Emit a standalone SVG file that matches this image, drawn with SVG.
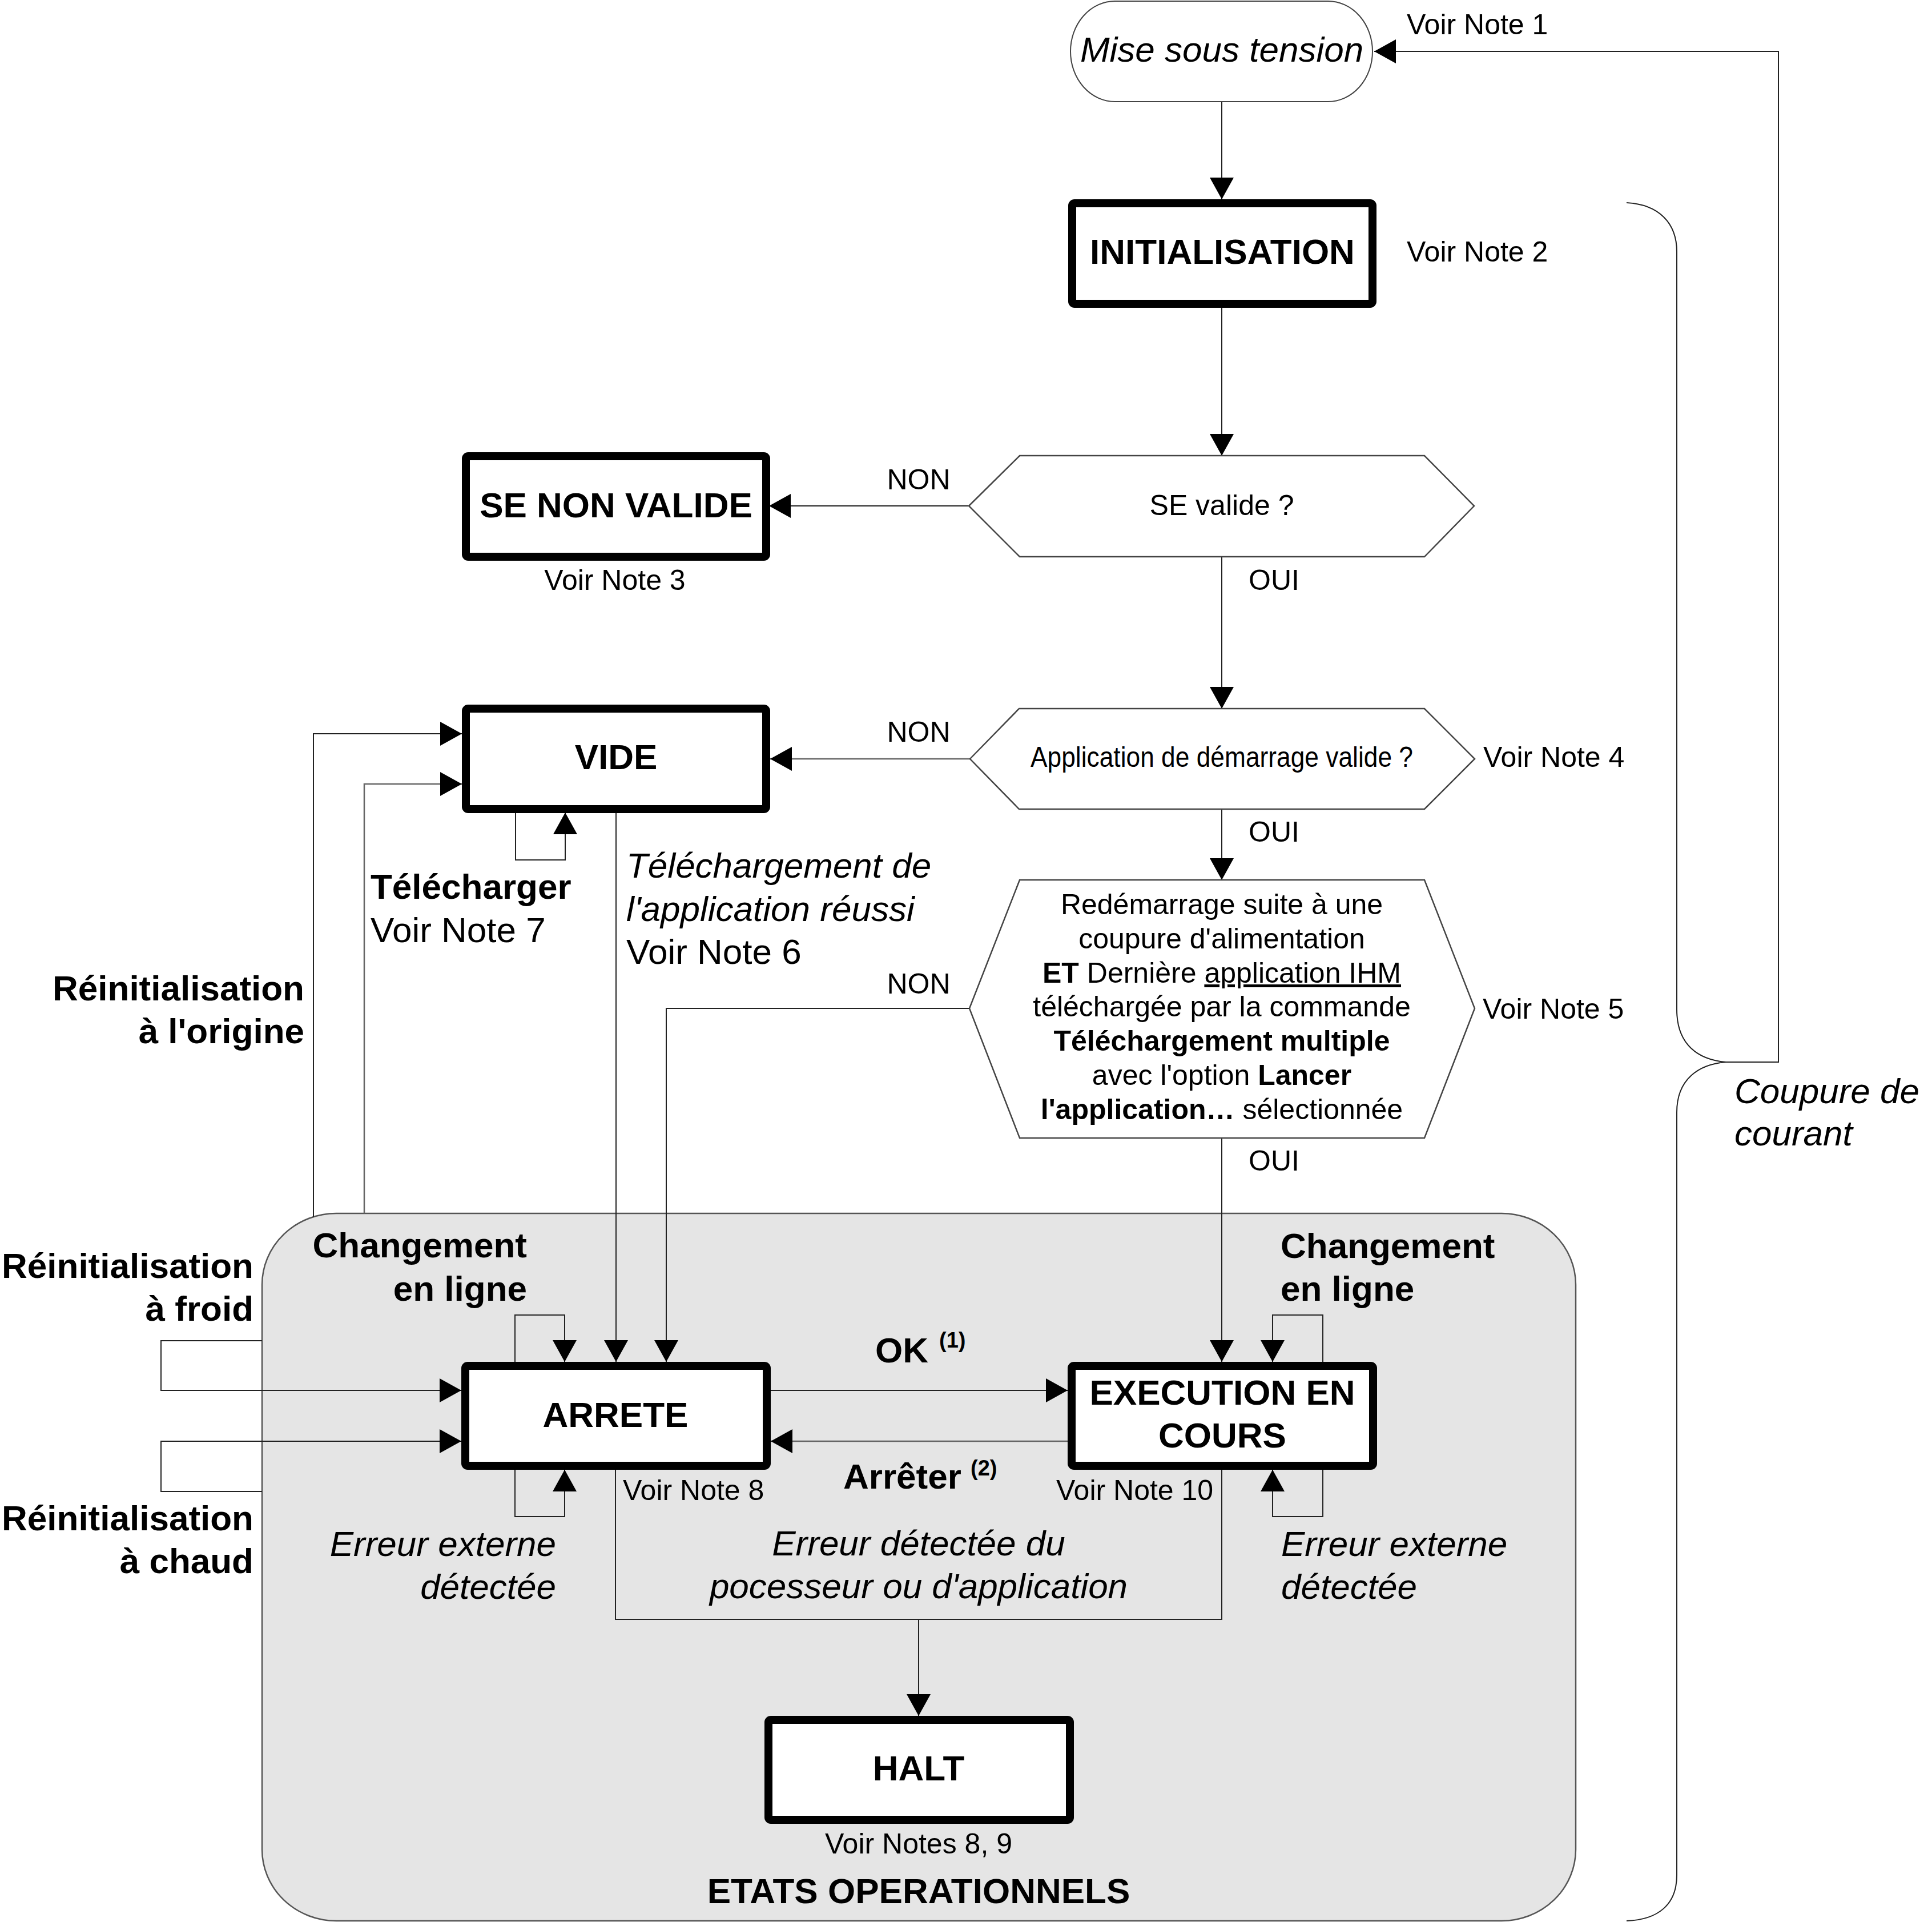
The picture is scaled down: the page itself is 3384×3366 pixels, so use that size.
<svg xmlns="http://www.w3.org/2000/svg" width="3384" height="3366" viewBox="0 0 3384 3366">
<defs>
<style>
text{font-family:"Liberation Sans",Arial,sans-serif;fill:#000}
.n{font-size:50px}
.l{font-size:62px}
.b{font-size:62px;font-weight:bold}
.i{font-size:62px;font-style:italic}
.c{text-anchor:middle}
.r{text-anchor:end}
.box{fill:#fff;stroke:#000;stroke-width:14}
.hex{fill:#fff;stroke:#444;stroke-width:2.5}
.ln{fill:none;stroke:#222;stroke-width:2}
.lg{fill:none;stroke:#666;stroke-width:2.5}
.arr{marker-end:url(#ah)}
</style>
<marker id="ah" markerUnits="userSpaceOnUse" viewBox="0 0 38 42" markerWidth="38" markerHeight="42" refX="38" refY="21" orient="auto"><path d="M0,0 L38,21 L0,42 z" fill="#000"/></marker>
</defs>
<rect width="3384" height="3366" fill="#fff"/>

<g id="etats-operationnels">
<rect x="459" y="2125" width="2301" height="1239" rx="130" ry="125" fill="#e5e5e5" stroke="#555" stroke-width="2.5"/>
<text class="b c" x="1609" y="3333">ETATS OPERATIONNELS</text>
</g>

<g id="connectors">
<path class="ln arr" d="M2140 178 L2140 349"/>
<path class="ln arr" d="M2140 539 L2140 798"/>
<path class="ln arr" d="M1697 886 L1347 886"/>
<path class="ln arr" d="M2140 975 L2140 1241"/>
<path class="lg arr" d="M1699 1329 L1349 1329"/>
<path class="ln arr" d="M2140 1417 L2140 1541"/>
<path class="ln arr" d="M1698 1766 L1167 1766 L1167 2385"/>
<path class="ln arr" d="M2140 1993 L2140 2385"/>
<path class="ln arr" d="M1079 1423 L1079 2385"/>
<path class="ln arr" d="M903 1423 L903 1506 L990 1506 L990 1423"/>
<path class="ln arr" d="M549 2131 L549 1285 L809 1285"/>
<path class="lg arr" d="M638 2125 L638 1373 L809 1373"/>
<path class="ln arr" d="M459 2348 L282 2348 L282 2435 L808 2435"/>
<path class="ln arr" d="M459 2612 L282 2612 L282 2524 L808 2524"/>
<path class="ln arr" d="M902 2385 L902 2303 L989 2303 L989 2385"/>
<path class="ln arr" d="M902 2574 L902 2656 L989 2656 L989 2574"/>
<path class="ln arr" d="M2317 2385 L2317 2303 L2229 2303 L2229 2385"/>
<path class="ln arr" d="M2317 2574 L2317 2656 L2229 2656 L2229 2574"/>
<path class="ln arr" d="M1350 2435 L1870 2435"/>
<path class="lg arr" d="M1870 2524 L1350 2524"/>
<path class="ln" d="M1078 2574 L1078 2836 L2140 2836 L2140 2574"/>
<path class="ln arr" d="M1609 2836 L1609 3005"/>
<path class="ln arr" d="M3023 1860 L3115 1860 L3115 90 L2407 90"/>
<path class="ln" d="M2849 355 C2905 358 2937 390 2937 441 L2937 1768 C2937 1830 2975 1856 3023 1860 C2975 1864 2937 1890 2937 1948 L2937 3284 C2937 3335 2905 3362 2849 3364"/>
</g>

<g id="mise-sous-tension">
<rect x="1875" y="2" width="529" height="176" rx="78" ry="88" fill="#fff" stroke="#444" stroke-width="2"/>
<text class="i c" x="2140" y="108">Mise sous tension</text>
<text class="n" x="2464" y="60">Voir Note 1</text>
</g>

<g id="initialisation">
<rect class="box" x="1878" y="356" width="526" height="176" rx="4"/>
<text class="b c" x="2141" y="462">INITIALISATION</text>
<text class="n" x="2464" y="458">Voir Note 2</text>
</g>

<g id="se-valide">
<polygon class="hex" points="1697,886 1786,798 2495,798 2582,886 2495,975 1786,975"/>
<text class="n c" x="2140" y="902">SE valide ?</text>
<text class="n c" x="1609" y="857">NON</text>
<text class="n" x="2187" y="1033">OUI</text>
</g>

<g id="se-non-valide">
<rect class="box" x="816" y="799" width="526" height="176" rx="4"/>
<text class="b c" x="1079" y="906">SE NON VALIDE</text>
<text class="n c" x="1077" y="1033">Voir Note 3</text>
</g>

<g id="application-valide">
<polygon class="hex" points="1699,1329 1785,1241 2495,1241 2583,1329 2495,1417 1785,1417"/>
<text class="n c" x="2140" y="1343" textLength="670" lengthAdjust="spacingAndGlyphs">Application de démarrage valide ?</text>
<text class="n c" x="1609" y="1299">NON</text>
<text class="n" x="2187" y="1474">OUI</text>
<text class="n" x="2598" y="1343">Voir Note 4</text>
</g>

<g id="vide">
<rect class="box" x="816" y="1241" width="526" height="176" rx="4"/>
<text class="b c" x="1079" y="1347">VIDE</text>
<text class="b" x="649" y="1574">Télécharger</text>
<text class="l" x="649" y="1650">Voir Note 7</text>
<text class="i" x="1097" y="1537">Téléchargement de</text>
<text class="i" x="1097" y="1613">l'application réussi</text>
<text class="l" x="1097" y="1688">Voir Note 6</text>
<text class="b r" x="533" y="1752">Réinitialisation</text>
<text class="b r" x="533" y="1827">à l'origine</text>
</g>

<g id="redemarrage">
<polygon class="hex" points="1698,1766 1786,1541 2495,1541 2583,1766 2495,1993 1786,1993"/>
<text class="n c" x="2140" y="1601">Redémarrage suite à une</text>
<text class="n c" x="2140" y="1661">coupure d'alimentation</text>
<text class="n c" x="2140" y="1721"><tspan font-weight="bold">ET</tspan> Dernière <tspan text-decoration="underline">application IHM</tspan></text>
<text class="n c" x="2140" y="1780">téléchargée par la commande</text>
<text class="n c" x="2140" y="1840" font-weight="bold">Téléchargement multiple</text>
<text class="n c" x="2140" y="1900">avec l'option <tspan font-weight="bold">Lancer</tspan></text>
<text class="n c" x="2140" y="1960"><tspan font-weight="bold">l'application…</tspan> sélectionnée</text>
<text class="n c" x="1609" y="1740">NON</text>
<text class="n" x="2187" y="2050">OUI</text>
<text class="n" x="2597" y="1784">Voir Note 5</text>
</g>

<g id="coupure">
<text class="i" x="3038" y="1932">Coupure de</text>
<text class="i" x="3038" y="2006">courant</text>
</g>

<g id="arrete">
<rect class="box" x="815" y="2392" width="528" height="175" rx="4"/>
<text class="b c" x="1078" y="2499">ARRETE</text>
<text class="n" x="1091" y="2627">Voir Note 8</text>
<text class="b r" x="923" y="2202">Changement</text>
<text class="b r" x="923" y="2278">en ligne</text>
<text class="i r" x="974" y="2725">Erreur externe</text>
<text class="i r" x="974" y="2800">détectée</text>
<text class="b r" x="444" y="2238">Réinitialisation</text>
<text class="b r" x="444" y="2313">à froid</text>
<text class="b r" x="444" y="2680">Réinitialisation</text>
<text class="b r" x="444" y="2755">à chaud</text>
</g>

<g id="execution-en-cours">
<rect class="box" x="1877" y="2392" width="528" height="175" rx="4"/>
<text class="b c" x="2141" y="2460">EXECUTION EN</text>
<text class="b c" x="2141" y="2535">COURS</text>
<text class="n" x="1850" y="2627">Voir Note 10</text>
<text class="b" x="2243" y="2203">Changement</text>
<text class="b" x="2243" y="2278">en ligne</text>
<text class="i" x="2244" y="2725">Erreur externe</text>
<text class="i" x="2244" y="2800">détectée</text>
</g>

<g id="transitions">
<text class="b" x="1533" y="2386">OK</text>
<text x="1645" y="2360" font-size="38" font-weight="bold">(1)</text>
<text class="b" x="1477" y="2607">Arrêter</text>
<text x="1700" y="2584" font-size="38" font-weight="bold">(2)</text>
<text class="i c" x="1609" y="2724">Erreur détectée du</text>
<text class="i c" x="1609" y="2799">pocesseur ou d'application</text>
</g>

<g id="halt">
<rect class="box" x="1346" y="3012" width="528" height="175" rx="4"/>
<text class="b c" x="1609" y="3118">HALT</text>
<text class="n c" x="1609" y="3246">Voir Notes 8, 9</text>
</g>
</svg>
